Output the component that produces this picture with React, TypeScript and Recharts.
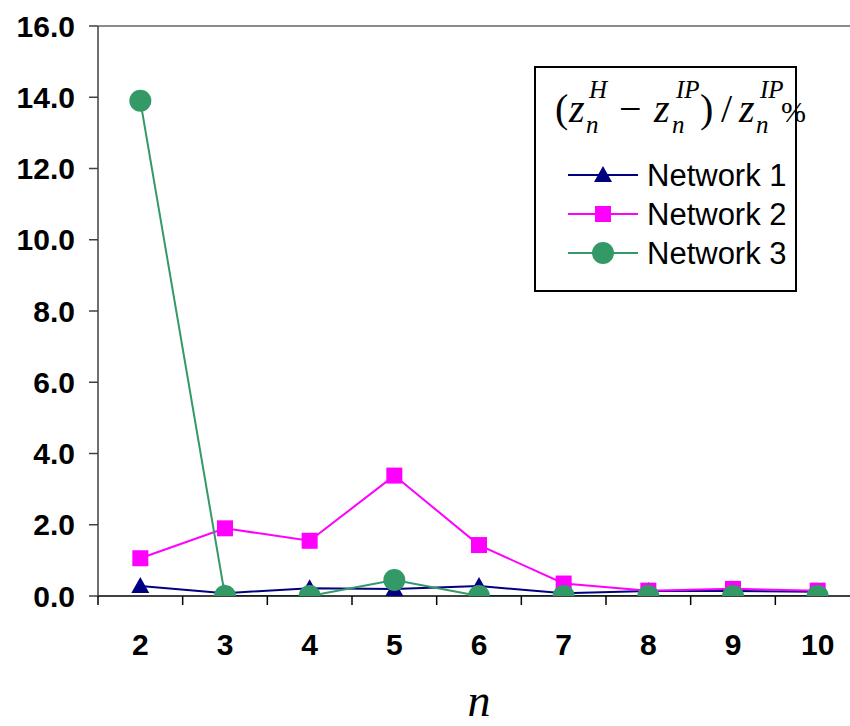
import React from "react";
import {
  Line,
  LineChart,
  XAxis,
  YAxis,
  Legend,
  ReferenceLine,
} from "recharts";

const nValues = [2, 3, 4, 5, 6, 7, 8, 9, 10];
const network1 = [0.28, 0.08, 0.22, 0.2, 0.28, 0.08, 0.14, 0.14, 0.12];
const network2 = [1.06, 1.9, 1.55, 3.38, 1.43, 0.35, 0.15, 0.2, 0.15];
const network3 = [13.9, 0, 0, 0.45, 0, 0, 0, 0, 0];
const seriesNames = ["Network 1", "Network 2", "Network 3"];
const yTicks = [0, 2, 4, 6, 8, 10, 12, 14, 16];
const xTicks = [1.5, 2, 2.5, 3, 3.5, 4, 4.5, 5, 5.5, 6, 6.5, 7, 7.5, 8, 8.5, 9, 9.5, 10, 10.5];

const NAVY = "#000080";
const MAGENTA = "#FF00FF";
const GREEN = "#339966";

const data = nValues.map((n, i) => ({
  n,
  net1: network1[i],
  net2: network2[i],
  net3: network3[i],
}));

const sans = "'Liberation Sans', Arial, sans-serif";
const serif = "'Liberation Serif', 'Times New Roman', serif";

function Marker({ kind, cx, cy, color }: { kind: string; cx: number; cy: number; color: string }) {
  if (kind === "triangle") {
    return (
      <polygon
        points={`${cx},${cy - 9} ${cx + 9},${cy + 7} ${cx - 9},${cy + 7}`}
        fill={color}
      />
    );
  }
  if (kind === "square") {
    return <rect x={cx - 8} y={cy - 8} width={16} height={16} fill={color} />;
  }
  return <circle cx={cx} cy={cy} r={11} fill={color} />;
}

const makeDot = (kind: string, color: string) => (props: any) => {
  const { cx, cy, index } = props;
  if (cx == null || cy == null) return <g key={index} />;
  return (
    <g key={index}>
      <Marker kind={kind} cx={cx} cy={cy} color={color} />
    </g>
  );
};

function XTick(props: any) {
  const { x, y, payload } = props;
  if (Number.isInteger(payload.value)) {
    return (
      <text
        x={x}
        y={y + 59}
        textAnchor="middle"
        fontFamily={sans}
        fontWeight="bold"
        fontSize={30}
        fill="#000"
      >
        {payload.value}
      </text>
    );
  }
  return <line x1={x} x2={x} y1={y} y2={y + 9} stroke="#000" strokeWidth={1.5} />;
}

// formula pieces of the legend title: (z_n^H - z_n^IP) / z_n^IP %
const formula = [
  { t: "(", x: 21, y: 56, s: 40, i: false },
  { t: "z", x: 35, y: 56, s: 40, i: true },
  { t: "H", x: 55, y: 32, s: 25, i: true },
  { t: "n", x: 52, y: 67, s: 25, i: true },
  { t: "−", x: 85, y: 56, s: 40, i: false },
  { t: "z", x: 120, y: 56, s: 40, i: true },
  { t: "IP", x: 142, y: 32, s: 25, i: true },
  { t: "n", x: 138, y: 67, s: 25, i: true },
  { t: ")", x: 166, y: 56, s: 40, i: false },
  { t: "/", x: 187, y: 56, s: 40, i: false },
  { t: "z", x: 205, y: 56, s: 40, i: true },
  { t: "IP", x: 226, y: 32, s: 25, i: true },
  { t: "n", x: 222, y: 67, s: 25, i: true },
  { t: "%", x: 247, y: 56, s: 30, i: false },
];

const legendItems = [
  { name: seriesNames[0], kind: "triangle", color: NAVY },
  { name: seriesNames[1], kind: "square", color: MAGENTA },
  { name: seriesNames[2], kind: "circle", color: GREEN },
];

function LegendBox() {
  return (
    <svg width={263} height={226} style={{ display: "block", overflow: "visible" }}>
      <rect x={1} y={1} width={261} height={224} fill="#fff" stroke="#000" strokeWidth={2} />
      {formula.map((p, k) => (
        <text
          key={k}
          x={p.x}
          y={p.y}
          fontFamily={serif}
          fontSize={p.s}
          fontStyle={p.i ? "italic" : "normal"}
          fill="#000"
        >
          {p.t}
        </text>
      ))}
      {legendItems.map((it, k) => {
        const cy = 109 + k * 39;
        return (
          <g key={it.name}>
            <line x1={34} x2={104} y1={cy} y2={cy} stroke={it.color} strokeWidth={2} />
            <Marker kind={it.kind} cx={69} cy={cy} color={it.color} />
            <text x={113} y={cy + 11} fontFamily={sans} fontSize={31} fill="#000">
              {it.name}
            </text>
          </g>
        );
      })}
    </svg>
  );
}

export default function App() {
  return (
    <div
      style={{
        position: "absolute",
        left: 0,
        top: 0,
        width: 850,
        height: 726,
        overflow: "hidden",
        background: "#fff",
      }}
    >
      <LineChart
        width={870}
        height={726}
        data={data}
        margin={{ top: 26, right: 10, bottom: 0, left: 0 }}
      >
        <XAxis
          dataKey="n"
          type="number"
          domain={[1.5, 10.5]}
          ticks={xTicks}
          interval={0}
          height={130}
          tickLine={false}
          tickSize={0}
          tickMargin={0}
          tick={<XTick />}
          stroke="#000"
          strokeWidth={1.5}
          label={{
            value: "n",
            position: "insideBottom",
            offset: 10,
            style: { fontFamily: serif, fontStyle: "italic", fontSize: 46, fill: "#000" },
          }}
        />
        <YAxis
          width={98}
          domain={[0, 16]}
          ticks={yTicks}
          interval={0}
          allowDataOverflow
          tickFormatter={(v: number) => v.toFixed(1)}
          tickSize={9}
          tickMargin={14}
          stroke="#404040"
          strokeWidth={1.5}
          tick={{ fontFamily: sans, fontWeight: "bold", fontSize: 30, fill: "#000" }}
        />
        <ReferenceLine y={16} stroke="#8c8c8c" strokeWidth={2} />
        <Legend
          layout="vertical"
          align="center"
          verticalAlign="middle"
          wrapperStyle={{ left: 534, top: 66, width: 263, height: 226 }}
          content={() => <LegendBox />}
        />
        <Line
          type="linear"
          dataKey="net1"
          name={seriesNames[0]}
          stroke={NAVY}
          strokeWidth={2}
          dot={makeDot("triangle", NAVY)}
          activeDot={false}
          isAnimationActive={false}
        />
        <Line
          type="linear"
          dataKey="net2"
          name={seriesNames[1]}
          stroke={MAGENTA}
          strokeWidth={2}
          dot={makeDot("square", MAGENTA)}
          activeDot={false}
          isAnimationActive={false}
        />
        <Line
          type="linear"
          dataKey="net3"
          name={seriesNames[2]}
          stroke={GREEN}
          strokeWidth={2}
          dot={makeDot("circle", GREEN)}
          activeDot={false}
          isAnimationActive={false}
        />
      </LineChart>
    </div>
  );
}
